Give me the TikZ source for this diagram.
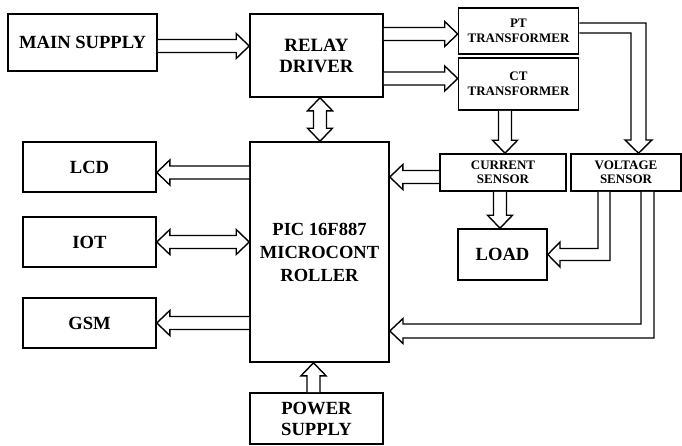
\documentclass[tikz,border=0pt]{standalone}
\usepackage{fontspec}
\setmainfont{Liberation Serif}
\usetikzlibrary{calc}
\newcommand{\bigf}{\fontsize{18.6}{22}\selectfont\bfseries}
\newcommand{\smallf}{\fontsize{13}{14.5}\selectfont\bfseries}
\tikzset{
  blk/.style 2 args={draw, line width=1.6pt, minimum width=#1, minimum height=#2,
    inner sep=0pt, align=center, font=\bigf},
  fat/.style={draw, line width=1.4pt, line join=miter, fill=white},
}
% single-headed hollow arrow from #1 to #2
\newcommand{\fatarrow}[2]{%
  \draw[fat] let \p1=(#1), \p2=(#2), \n1={veclen(\x2-\x1,\y2-\y1)},
    \n2={atan2(\y2-\y1,\x2-\x1)} in
    [shift={(\p1)}, rotate=\n2]
    (0,6.5) -- (\n1-13,6.5) -- (\n1-13,12.5) -- (\n1,0) -- (\n1-13,-12.5)
    -- (\n1-13,-6.5) -- (0,-6.5);}
% double-headed hollow arrow between #1 and #2
\newcommand{\fatdarrow}[2]{%
  \draw[fat] let \p1=(#1), \p2=(#2), \n1={veclen(\x2-\x1,\y2-\y1)},
    \n2={atan2(\y2-\y1,\x2-\x1)} in
    [shift={(\p1)}, rotate=\n2]
    (0,0) -- (13,12.5) -- (13,6.5) -- (\n1-13,6.5) -- (\n1-13,12.5) -- (\n1,0)
    -- (\n1-13,-12.5) -- (\n1-13,-6.5) -- (13,-6.5) -- (13,-12.5) -- cycle;}
\begin{document}
\begin{tikzpicture}[x=1pt, y=-1pt]
\useasboundingbox (0,0) rectangle (682,445);

% blocks
\node[blk={149}{57}] (main) at (82.5,42.5) {MAIN SUPPLY};
\node[blk={133}{83}, font=\fontsize{18.8}{21}\selectfont\bfseries] (relay) at (316.5,55.5) {RELAY\\DRIVER};
\node[blk={120}{46}, font=\smallf] (pt) at (518.5,31) {PT\\TRANSFORMER};
\node[blk={120}{52}, font=\smallf] (ct) at (518.5,84) {CT\\TRANSFORMER};
\node[blk={126}{37}, font=\smallf] (cs) at (503,172.5) {CURRENT\\SENSOR};
\node[blk={110}{37}, font=\smallf] (vs) at (626,172.5) {VOLTAGE\\SENSOR};
\node[blk={89}{51}] (load) at (502.5,254.5) {LOAD};
\node[blk={133}{50}] (lcd) at (89.5,167) {LCD};
\node[blk={133}{50}] (iot) at (89.5,242) {IOT};
\node[blk={133}{50}] (gsm) at (89.5,323) {GSM};
\node[blk={139}{220}, font=\fontsize{18.5}{23}\selectfont\bfseries] (pic) at (319.5,252) {PIC 16F887\\MICROCONT\\ROLLER};
\node[blk={133}{51}, font=\fontsize{18.6}{21}\selectfont\bfseries] (power) at (316.5,418.5) {POWER\\SUPPLY};

% straight hollow arrows
\fatarrow{$(main.east)+(0,3.5)$}{$(relay.west|-main.east)+(0,3.5)$}
\fatarrow{$(relay.east|-pt.west)+(0,3)$}{$(pt.west)+(0,3)$}
\fatarrow{$(relay.east|-ct.west)+(0,-5.5)$}{$(ct.west)+(0,-5.5)$}
\fatdarrow{$(relay.south)+(3.5,0)$}{$(relay.south|-pic.north)+(3.5,0)$}
\fatarrow{$(pic.west|-lcd.east)+(0,5.5)$}{$(lcd.east)+(0,5.5)$}
\fatdarrow{$(iot.east)$}{$(pic.west|-iot.east)$}
\fatarrow{$(pic.west|-gsm.east)$}{$(gsm.east)$}
\fatarrow{$(power.north)+(-3,0)$}{$(power.north|-pic.south)+(-3,0)$}
\fatarrow{$(ct.south)+(-13.5,0)$}{$(cs.north-|ct.south)+(-13.5,0)$}
\fatarrow{$(cs.south)+(-3,0)$}{$(load.north-|cs.south)+(-3,0)$}
\fatarrow{$(cs.west)+(0,4.5)$}{$(pic.east|-cs.west)+(0,4.5)$}

% bent hollow arrows
\draw[fat] (pt.east|-0,23) -- (646,23) -- (646,140) -- (652,140)
  -- (vs.north-|638.5,0) -- (625,140) -- (631,140) -- (631,33) -- (pt.east|-0,33);
\draw[fat] (vs.south-|598,0) -- (598,248.5) -- (560,248.5) -- (560,242)
  -- (load.east) -- (560,267) -- (560,260.5) -- (610,260.5) -- (vs.south-|610,0);
\draw[fat] (vs.south-|641,0) -- (641,324) -- (403,324) -- (403,318.5)
  -- (pic.east|-0,331) -- (403,343.5) -- (403,338) -- (654,338) -- (vs.south-|654,0);
\end{tikzpicture}
\end{document}
